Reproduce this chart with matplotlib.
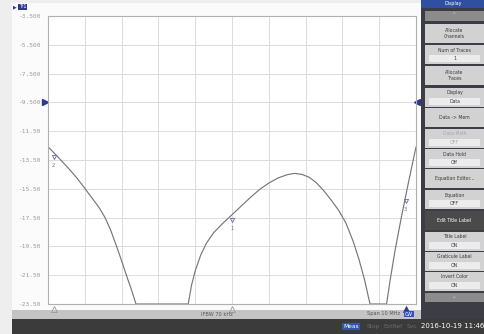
import matplotlib.pyplot as plt
from matplotlib.patches import Rectangle
from matplotlib.transforms import offset_copy
import numpy as np

# trace: offset from center (MHz) vs level (dB), clipped at bottom
freq_mhz = [-5.0, -4.8, -4.6, -4.4, -4.2, -4.0, -3.8, -3.6, -3.45, -3.3, -3.15,
            -3.0, -2.85, -2.72, -2.61,
            -1.19, -1.1, -1.0, -0.85, -0.7, -0.5, -0.25, 0.0, 0.25, 0.5, 0.75,
            1.0, 1.25, 1.5, 1.7, 1.9, 2.1, 2.3, 2.5, 2.7, 2.9, 3.1, 3.3, 3.45,
            3.6, 3.75,
            4.2, 4.3, 4.43, 4.6, 4.8, 5.0]
level_db = [-12.58, -13.1, -13.65, -14.2, -14.8, -15.47, -16.15, -16.85, -17.5, -18.35, -19.4,
            -20.5, -21.65, -22.6, -23.5,
            -23.5, -22.2, -21.2, -20.1, -19.3, -18.55, -17.9, -17.3, -16.7, -16.1, -15.55,
            -15.1, -14.75, -14.52, -14.43, -14.5, -14.7, -15.1, -15.65, -16.3, -17.0, -17.9, -19.2, -20.4,
            -21.8, -23.5,
            -23.5, -21.8, -19.8, -17.5, -15.0, -12.6]

ytick_vals = [-3.5, -5.5, -7.5, -9.5, -11.5, -13.5, -15.5, -17.5, -19.5, -21.5, -23.5]
ytick_text = ["-3.500", "-5.500", "-7.500", "-9.500", "-11.50", "-13.50",
              "-15.50", "-17.50", "-19.50", "-21.50", "-23.50"]

# markers: (number, x position in MHz)
markers = [(1, 0.0), (2, -4.85), (3, 4.72)]
ref_level = -9.5

W, H = 485, 334
fig = plt.figure(figsize=(W / 100, H / 100), dpi=100)
fig.patch.set_facecolor("#eeeeee")


def fx(x):
    return x / W


def fy(y):
    return 1 - y / H


def rect(x0, y0, x1, y1, color):
    fig.add_artist(Rectangle((fx(x0), fy(y1)), fx(x1) - fx(x0), fy(y0) - fy(y1),
                             transform=fig.transFigure, facecolor=color,
                             edgecolor="none", lw=0, zorder=-5))


# instrument window background
rect(12, 3, 421, 310, "#fbfbfb")
rect(12, 310, 421, 319, "#c4c4c4")
rect(12, 319, 485, 334, "#3b3b3b")

ax = fig.add_axes([fx(48), fy(304), fx(416) - fx(48), fy(16) - fy(304)])
ax.set_facecolor("white")
ax.plot(freq_mhz, level_db, color="#767680", lw=0.85)
ax.set_xlim(-5, 5)
ax.set_ylim(-23.5, -3.5)
ax.set_xticks(np.arange(-5, 6, 1))
ax.set_xticklabels([])
ax.set_yticks(ytick_vals)
ax.set_yticklabels(ytick_text, family="DejaVu Sans Mono", fontsize=4.4, color="#9a9a9a")
ax.tick_params(length=0, pad=5)
ax.grid(color="#dcdcdc", lw=0.7)
for s in ax.spines.values():
    s.set_color("#b0b0b0")
    s.set_linewidth(0.8)

# marker symbols on the trace
for num, mx in markers:
    my = np.interp(mx, freq_mhz, level_db)
    ax.plot(mx, my - 0.35, marker="v", ms=3, mfc="none", mec="#6a6a9a", mew=0.6)
    ax.text(mx, my - 0.75, str(num), fontsize=3.8, color="#6a6a9a", ha="center", va="top")
    # stimulus triangles just under the bottom edge
    filled = num == 3
    ax.plot(mx, -0.017, marker="^", ms=4, transform=ax.get_xaxis_transform(),
            mfc="#2a3b8f" if filled else "none", mec="#2a3b8f" if filled else "#9a9a9a",
            mew=0.6, clip_on=False)

# reference level pointers
ax.plot(-5, ref_level, marker=">", ms=4.5, color="#2a3b8f", clip_on=False,
        transform=offset_copy(ax.transData, fig=fig, x=-2, units="points"))
ax.plot(5, ref_level, marker="<", ms=4.5, color="#2a3b8f", clip_on=False,
        transform=offset_copy(ax.transData, fig=fig, x=1, units="points"))

# trace title
fig.text(fx(13), fy(7), "\u25b6", fontsize=3.5, color="#2a3b8f", va="center")
fig.text(fx(19), fy(7), "Tr1", fontsize=3.6, color="white", va="center",
         bbox=dict(boxstyle="square,pad=0.15", fc="#2a3b8f", ec="none"))

# bottom info line
fig.text(fx(217), fy(314), "IFBW 70 kHz", fontsize=3.6, color="#555555", ha="center", va="center")
fig.text(fx(400), fy(314), "Span 10 MHz", fontsize=3.6, color="#555555", ha="right", va="center")
fig.text(fx(409), fy(314), "CW", fontsize=3.4, color="white", ha="center", va="center",
         bbox=dict(boxstyle="square,pad=0.15", fc="#3553b0", ec="none"))

# status bar
fig.text(fx(351), fy(326.5), "Meas", fontsize=4.2, color="white", ha="center", va="center",
         bbox=dict(boxstyle="square,pad=0.2", fc="#3553b0", ec="none"))
for lab, xc in [("Stop", 373), ("ExtRef", 393), ("Svc", 412)]:
    fig.text(fx(xc), fy(326.5), lab, fontsize=4.2, color="#6a6a6a", ha="center", va="center")
fig.text(fx(453), fy(326.5), "2016-10-19 11:46", fontsize=5, color="white", ha="center", va="center")

# softkey panel
rect(421, 0, 485, 319, "#3d3d45")
rect(421, 0, 485, 8, "#2f4fa0")
fig.text(fx(453), fy(3.5), "Display", fontsize=3.4, color="white", ha="center", va="center")
rect(425, 11, 484, 21, "#8c8c8c")
fig.text(fx(454.5), fy(16), "\u2303", fontsize=4, color="#d0d0d0", ha="center", va="center")

buttons = [("Allocate\nChannels", None, 24), ("Num of Traces", "1", 45),
           ("Allocate\nTraces", None, 66), ("Display", "Data", 88),
           ("Data -> Mem", None, 108), ("Data Math", "OFF", 129),
           ("Data Hold", "Off", 149), ("Equation Editor...", None, 169),
           ("Equation", "OFF", 190), ("Edit Title Label", None, 211),
           ("Title Label", "ON", 232), ("Graticule Label", "ON", 252),
           ("Invert Color", "ON", 272)]
for label, value, top in buttons:
    dark = label == "Edit Title Label"
    grey = label == "Data Math"
    rect(425, top, 484, top + 19, "#4a4a4a" if dark else "#d2d2d2")
    tc = "white" if dark else ("#a8a8a8" if grey else "#3a3a3a")
    if value is None:
        fig.text(fx(454.5), fy(top + 9.5), label, fontsize=3.3, color=tc,
                 ha="center", va="center", linespacing=1.3)
    else:
        fig.text(fx(454.5), fy(top + 5), label, fontsize=3.3, color=tc, ha="center", va="center")
        rect(429, top + 10, 480, top + 17, "#ececec")
        fig.text(fx(454.5), fy(top + 13.5), value, fontsize=3.3, color=tc, ha="center", va="center")
rect(425, 293, 484, 302, "#8c8c8c")
fig.text(fx(454.5), fy(297), "\u2304", fontsize=4, color="#d0d0d0", ha="center", va="center")

fig.savefig("out.png", dpi=100, facecolor=fig.get_facecolor())
